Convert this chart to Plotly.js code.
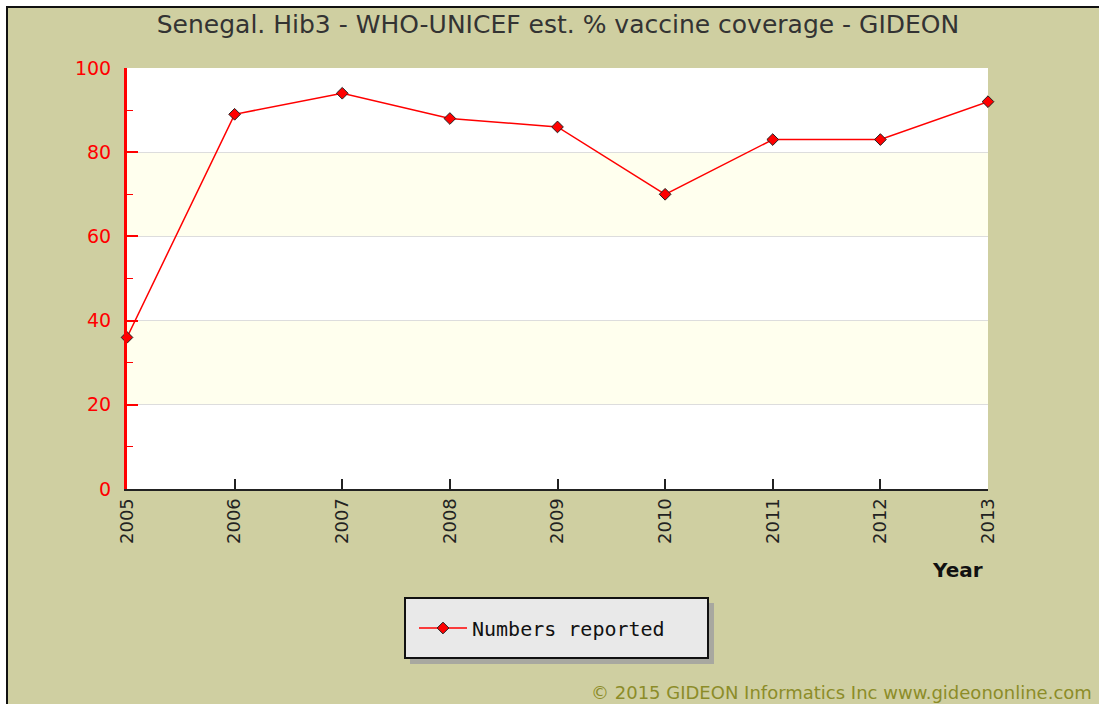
<!DOCTYPE html>
<html>
<head>
<meta charset="utf-8">
<script src="https://cdn.plot.ly/plotly-3.0.1.min.js"></script>
<style>html,body{margin:0;padding:0;background:#fff;}#chart{width:1099px;height:704px;}</style>
</head>
<body>
<div id="chart"></div>
<script>
const years = [2005, 2006, 2007, 2008, 2009, 2010, 2011, 2012, 2013];
const coverage = [36, 89, 94, 88, 86, 70, 83, 83, 92];
const yTicks = [0, 20, 40, 60, 80, 100];
const seriesName = "Numbers reported";
const chartTitle = "Senegal. Hib3 - WHO-UNICEF est. % vaccine coverage - GIDEON";
const xTitle = "Year";
const footer = "© 2015 GIDEON Informatics Inc www.gideononline.com";

const W = 1099, H = 704, L = 127, R = 111, T = 68, B = 215;
const pw = W - L - R, ph = H - T - B;
const px = v => (v - L) / pw;
const py = v => (H - B - v) / ph;

const olive = "rgb(207,207,161)";

const trace = {
  x: years, y: coverage, name: seriesName, type: "scatter", mode: "lines+markers",
  line: {color: "#ff0000", width: 1.5},
  marker: {symbol: "diamond", size: 9, color: "#ff0000", line: {color: "#202020", width: 1}},
  cliponaxis: false
};

const layout = {
  width: W, height: H,
  margin: {l: L, r: R, t: T, b: B},
  paper_bgcolor: "#ffffff", plot_bgcolor: "#ffffff",
  showlegend: true,
  title: {text: chartTitle, font: {family: "DejaVu Sans", size: 25, color: "#333333"},
          x: 558 / W, xanchor: "center", y: 1 - 24/H, yanchor: "middle"},
  xaxis: {
    type: "linear", range: [2005, 2013], tickvals: years, ticktext: years.map(String),
    showgrid: false, zeroline: false,
    showline: true, linecolor: "#222222", linewidth: 2,
    ticks: "inside", ticklen: 10, tickcolor: "#222222", tickwidth: 2,
    tickangle: -90, tickfont: {family: "DejaVu Sans", size: 18, color: "#222222"},
    fixedrange: true
  },
  yaxis: {
    range: [0, 100], tickvals: yTicks,
    showgrid: true, gridcolor: "#dddddd", gridwidth: 1, zeroline: false,
    showline: true, linecolor: "#ff0000", linewidth: 3,
    ticks: "inside", ticklen: 11, tickcolor: "#ff0000", tickwidth: 2,
    ticklabelstandoff: 9,
    minor: {dtick: 10, tick0: 0, ticks: "inside", ticklen: 6, tickcolor: "#ff0000", tickwidth: 1, showgrid: false},
    tickfont: {family: "DejaVu Sans", size: 19, color: "#ff0000"},
    fixedrange: true
  },
  legend: {
    x: px(414), xanchor: "left", y: py(628), yanchor: "middle",
    bgcolor: "rgba(0,0,0,0)", borderwidth: 0, itemwidth: 48,
    font: {family: "DejaVu Sans Mono", size: 20, color: "#111111"}
  },
  shapes: [
    {type: "rect", xref: "paper", yref: "paper", x0: px(7), x1: px(1115), y0: py(720), y1: py(7),
     fillcolor: olive, line: {color: "#111111", width: 2}, layer: "below"},
    {type: "rect", xref: "x", yref: "y", x0: 2005, x1: 2013, y0: 0, y1: 100,
     fillcolor: "#ffffff", line: {width: 0}, layer: "below"},
    {type: "rect", xref: "x", yref: "y", x0: 2005, x1: 2013, y0: 20, y1: 40,
     fillcolor: "#ffffee", line: {width: 0}, layer: "below"},
    {type: "rect", xref: "x", yref: "y", x0: 2005, x1: 2013, y0: 60, y1: 80,
     fillcolor: "#ffffee", line: {width: 0}, layer: "below"},
    {type: "rect", xref: "paper", yref: "paper", x0: px(410), x1: px(714), y0: py(664), y1: py(603),
     fillcolor: "#a8a8a0", line: {width: 0}, layer: "below"},
    {type: "rect", xref: "paper", yref: "paper", x0: px(405), x1: px(708), y0: py(658), y1: py(598),
     fillcolor: "#e9e9e9", line: {color: "#111111", width: 2}, layer: "below"}
  ],
  annotations: [
    {text: "<b>" + xTitle + "</b>", xref: "paper", yref: "paper", x: px(957), y: py(570),
     xanchor: "center", yanchor: "middle", showarrow: false,
     font: {family: "DejaVu Sans", size: 20, color: "#111111"}},
    {text: footer, xref: "paper", yref: "paper", x: px(1094), y: py(692),
     xanchor: "right", yanchor: "middle", showarrow: false,
     font: {family: "DejaVu Sans", size: 18, color: "rgb(140,140,40)"}}
  ]
};

Plotly.newPlot("chart", [trace], layout, {staticPlot: true, displayModeBar: false});
</script>
</body>
</html>
